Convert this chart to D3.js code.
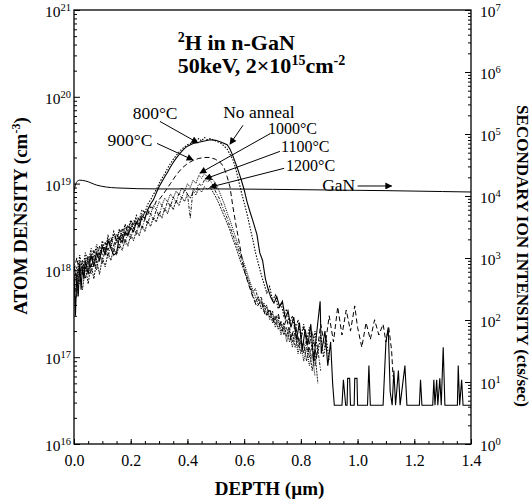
<!DOCTYPE html>
<html lang="en">
<head>
<meta charset="UTF-8">
<title>2H in n-GaN SIMS profile</title>
<script src="https://d3js.org/d3.v7.min.js"></script>
<style>
  body { margin: 0; background: #fff; }
  svg { display: block; font-family: "Liberation Serif", "Times New Roman", serif; }
  .tick line { stroke: #000; }
</style>
</head>
<body>
<div id="chart"></div>
<script>
// depth (um), atom density (cm-3)
const noAnneal = [
  [0.000, 9e17], [0.005, 3e17], [0.010, 9e17], [0.015, 5e17], [0.020, 1.2e18], [0.025, 6e17],
  [0.030, 1.1e18], [0.035, 8e17], [0.040, 1.3e18], [0.050, 9e17], [0.060, 1.5e18], [0.070, 1.1e18],
  [0.080, 1.6e18], [0.090, 1.3e18], [0.100, 1.9e18], [0.110, 1.5e18], [0.120, 2.2e18], [0.130, 1.8e18],
  [0.140, 1.5e18], [0.150, 1.6e18], [0.160, 2.4e18], [0.170, 2.1e18], [0.180, 2.8e18], [0.190, 2.5e18],
  [0.200, 3.1e18], [0.210, 2.8e18], [0.220, 3.6e18], [0.230, 3.2e18], [0.240, 4.2e18], [0.250, 4.0e18],
  [0.260, 5.0e18], [0.270, 5.8e18], [0.280, 6.5e18], [0.290, 7.8e18], [0.300, 9.2e18], [0.310, 1.05e19],
  [0.320, 1.2e19], [0.330, 1.35e19], [0.340, 1.55e19], [0.350, 1.75e19], [0.360, 1.95e19], [0.370, 2.15e19],
  [0.380, 2.35e19], [0.390, 2.55e19], [0.400, 2.7e19], [0.420, 2.9e19], [0.440, 3.0e19], [0.460, 3.1e19],
  [0.480, 3.2e19], [0.500, 3.15e19], [0.520, 3.0e19], [0.540, 2.8e19], [0.550, 2.5e19], [0.560, 2.1e19],
  [0.575, 1.55e19], [0.590, 1.1e19], [0.600, 8.5e18], [0.610, 6.2e18], [0.620, 4.8e18], [0.630, 3.8e18],
  [0.645, 2.6e18], [0.655, 1.6e18], [0.665, 1.3e18], [0.675, 8e17], [0.685, 6e17], [0.695, 4.8e17],
  [0.705, 4.2e17], [0.715, 5e17], [0.725, 3.8e17], [0.735, 4.4e17], [0.745, 2.8e17], [0.755, 3.4e17],
  [0.765, 2.2e17], [0.775, 2.9e17], [0.785, 1.6e17], [0.795, 2.5e17], [0.805, 1.2e17], [0.815, 2.1e17],
  [0.825, 1.4e17], [0.835, 2.4e17], [0.845, 9e16], [0.855, 1.8e17], [0.868, 4.4e17], [0.872, 1.1e17],
  [0.885, 2e17], [0.895, 8e16], [0.905, 1.5e17], [0.912, 5e16], [0.918, 2.8e16], [0.945, 2.8e16],
  [0.950, 5.5e16], [0.958, 2.8e16], [0.963, 2.8e16], [0.965, 5.7e16], [0.972, 5.7e16], [0.975, 2.8e16],
  [0.988, 2.8e16], [0.990, 5.7e16], [0.998, 5.7e16], [1.000, 2.8e16], [1.035, 2.8e16], [1.040, 8e16],
  [1.045, 2.8e16], [1.090, 2.8e16], [1.100, 1.5e17], [1.108, 2.2e17], [1.115, 4e16], [1.122, 2.8e16],
  [1.128, 7e16], [1.134, 2.8e16], [1.144, 7e16], [1.150, 2.8e16], [1.167, 8e16], [1.174, 2.8e16],
  [1.218, 2.8e16], [1.222, 5.5e16], [1.227, 2.8e16], [1.265, 2.8e16], [1.269, 5.5e16], [1.273, 2.8e16],
  [1.279, 5.5e16], [1.283, 2.8e16], [1.290, 5.7e16], [1.295, 2.8e16], [1.302, 1.3e17], [1.308, 2.8e16],
  [1.352, 2.8e16], [1.355, 8e16], [1.360, 2.8e16], [1.367, 5.5e16], [1.372, 2.8e16], [1.400, 2.8e16]
];

const t800 = [
  [0.00, 1.2e18], [0.01, 8e17], [0.02, 1.5e18], [0.03, 1.0e18], [0.04, 1.6e18], [0.05, 1.2e18],
  [0.06, 1.8e18], [0.07, 1.4e18], [0.08, 2.0e18], [0.09, 1.5e18], [0.10, 2.2e18], [0.11, 1.7e18],
  [0.12, 2.5e18], [0.13, 2.0e18], [0.14, 2.8e18], [0.15, 2.2e18], [0.16, 3.0e18], [0.17, 2.5e18],
  [0.18, 3.4e18], [0.19, 2.9e18], [0.20, 3.8e18], [0.21, 3.3e18], [0.22, 4.3e18], [0.23, 3.8e18],
  [0.24, 5.0e18], [0.25, 4.6e18], [0.26, 5.8e18], [0.27, 6.5e18], [0.28, 7.5e18], [0.29, 8.5e18],
  [0.30, 1.0e19], [0.31, 1.15e19], [0.32, 1.3e19], [0.33, 1.5e19], [0.34, 1.7e19], [0.35, 1.9e19],
  [0.36, 2.1e19], [0.37, 2.3e19], [0.38, 2.5e19], [0.40, 2.8e19], [0.42, 3.0e19], [0.44, 3.3e19],
  [0.45, 3.1e19], [0.46, 3.4e19], [0.47, 3.2e19], [0.48, 3.3e19], [0.50, 3.1e19], [0.52, 2.9e19],
  [0.54, 2.5e19], [0.56, 1.9e19], [0.57, 1.5e19], [0.58, 1.1e19], [0.59, 8e18], [0.60, 6e18],
  [0.61, 4.5e18], [0.62, 3.2e18], [0.63, 2.3e18], [0.64, 1.6e18], [0.65, 1.2e18], [0.66, 9e17],
  [0.67, 7e17], [0.68, 5.5e17], [0.69, 6.5e17], [0.70, 4.5e17], [0.71, 5.2e17], [0.72, 3.6e17],
  [0.73, 4.2e17], [0.74, 3e17], [0.75, 3.6e17], [0.76, 2.4e17], [0.77, 3e17], [0.78, 2e17],
  [0.79, 2.7e17], [0.80, 1.7e17], [0.81, 2.4e17], [0.82, 1.5e17], [0.83, 2.2e17], [0.84, 1.2e17],
  [0.85, 2e17], [0.86, 1.1e17], [0.87, 1.8e17], [0.88, 1.0e17], [0.89, 1.6e17], [0.90, 9e16]
];

const t900 = [
  [0.00, 1.0e18], [0.01, 1.4e18], [0.02, 9e17], [0.03, 1.3e18], [0.04, 1.0e18], [0.05, 1.5e18],
  [0.06, 1.1e18], [0.07, 1.7e18], [0.08, 1.3e18], [0.09, 1.9e18], [0.10, 1.5e18], [0.11, 2.1e18],
  [0.12, 1.7e18], [0.13, 2.4e18], [0.14, 1.9e18], [0.15, 2.7e18], [0.16, 2.2e18], [0.17, 3.0e18],
  [0.18, 2.5e18], [0.19, 3.4e18], [0.20, 2.9e18], [0.21, 3.8e18], [0.22, 3.3e18], [0.23, 4.2e18],
  [0.24, 3.8e18], [0.25, 4.8e18], [0.26, 4.4e18], [0.27, 5.4e18], [0.28, 5.2e18], [0.29, 6.3e18],
  [0.30, 6.5e18], [0.32, 8e18], [0.34, 1.0e19], [0.36, 1.25e19], [0.38, 1.5e19], [0.40, 1.7e19],
  [0.42, 1.85e19], [0.44, 1.95e19], [0.46, 2.0e19], [0.48, 2.0e19], [0.50, 1.9e19], [0.52, 1.7e19],
  [0.53, 1.5e19], [0.54, 1.2e19], [0.55, 9.2e18], [0.56, 5.5e18], [0.57, 3.5e18], [0.585, 1.9e18],
  [0.60, 1.0e18], [0.615, 7e17], [0.63, 5e17], [0.645, 3.8e17], [0.66, 4.5e17], [0.675, 3e17],
  [0.69, 3.6e17], [0.705, 2.5e17], [0.72, 3.2e17], [0.735, 2e17], [0.75, 2.8e17], [0.765, 1.6e17],
  [0.78, 2.4e17], [0.795, 1.4e17], [0.81, 2.2e17], [0.825, 1.2e17], [0.84, 2.0e17], [0.855, 1e17],
  [0.87, 2.4e17], [0.885, 1.3e17], [0.90, 3e17], [0.915, 1.5e17], [0.93, 3.8e17], [0.945, 1.8e17],
  [0.96, 3.5e17], [0.975, 2e17], [0.99, 3.9e17], [1.00, 2.2e17], [1.015, 1.3e17], [1.03, 2.5e17],
  [1.045, 1.6e17], [1.06, 2.7e17], [1.075, 1.8e17], [1.09, 2.4e17], [1.10, 1.5e17], [1.11, 2.2e17],
  [1.12, 1.2e17], [1.125, 6e16]
];

const t1000 = [
  [0.00, 1.1e18], [0.01, 7e17], [0.02, 1.3e18], [0.03, 9e17], [0.04, 1.4e18], [0.05, 1.0e18],
  [0.06, 1.6e18], [0.07, 1.2e18], [0.08, 1.8e18], [0.09, 1.4e18], [0.10, 2.0e18], [0.11, 1.6e18],
  [0.12, 2.3e18], [0.13, 1.8e18], [0.14, 2.6e18], [0.15, 2.1e18], [0.16, 2.9e18], [0.17, 2.3e18],
  [0.18, 3.2e18], [0.19, 2.6e18], [0.20, 3.6e18], [0.21, 3.0e18], [0.22, 4.0e18], [0.23, 3.4e18],
  [0.24, 4.5e18], [0.25, 3.9e18], [0.26, 5.0e18], [0.27, 4.4e18], [0.28, 5.6e18], [0.29, 5.0e18],
  [0.30, 6.2e18], [0.31, 5.6e18], [0.32, 6.8e18], [0.33, 6.2e18], [0.34, 7.6e18], [0.35, 6.8e18],
  [0.36, 8.2e18], [0.37, 7.4e18], [0.38, 9e18], [0.39, 8.2e18], [0.40, 1.0e19], [0.41, 9e18],
  [0.42, 1.1e19], [0.43, 1.0e19], [0.44, 1.25e19], [0.45, 1.15e19], [0.46, 1.3e19], [0.47, 1.2e19],
  [0.48, 1.25e19], [0.49, 1.1e19], [0.50, 1.0e19], [0.51, 8.5e18], [0.52, 7e18], [0.53, 5.8e18],
  [0.54, 4.6e18], [0.55, 3.8e18], [0.56, 3.0e18], [0.57, 2.4e18], [0.58, 1.9e18], [0.59, 1.5e18],
  [0.60, 1.2e18], [0.61, 9.5e17], [0.62, 7.5e17], [0.63, 6e17], [0.64, 5e17], [0.65, 4e17],
  [0.66, 4.6e17], [0.67, 3.3e17], [0.68, 3.8e17], [0.69, 2.7e17], [0.70, 3.2e17], [0.71, 2.2e17],
  [0.72, 2.7e17], [0.73, 1.8e17], [0.74, 2.3e17], [0.75, 1.5e17], [0.76, 2e17], [0.77, 1.3e17],
  [0.78, 1.8e17], [0.79, 1.1e17], [0.80, 1.5e17], [0.81, 9e16], [0.82, 1.3e17], [0.83, 8e16],
  [0.84, 1.1e17], [0.85, 6e16]
];

const t1100 = [
  [0.00, 6e17], [0.01, 1.1e18], [0.02, 7e17], [0.03, 1.2e18], [0.04, 8e17], [0.05, 1.3e18],
  [0.06, 9e17], [0.07, 1.4e18], [0.08, 1.0e18], [0.09, 1.6e18], [0.10, 1.2e18], [0.11, 1.8e18],
  [0.12, 1.4e18], [0.13, 2.0e18], [0.14, 1.6e18], [0.15, 2.3e18], [0.16, 1.8e18], [0.17, 2.6e18],
  [0.18, 2.0e18], [0.19, 2.9e18], [0.20, 2.3e18], [0.21, 3.2e18], [0.22, 2.6e18], [0.23, 3.6e18],
  [0.24, 3.0e18], [0.25, 4.0e18], [0.26, 3.4e18], [0.27, 4.5e18], [0.28, 3.8e18], [0.29, 5.0e18],
  [0.30, 4.2e18], [0.31, 5.6e18], [0.32, 4.8e18], [0.33, 6.3e18], [0.34, 5.4e18], [0.35, 7e18],
  [0.36, 6e18], [0.37, 7.8e18], [0.38, 6.8e18], [0.39, 8.5e18], [0.40, 7.6e18], [0.41, 4e18],
  [0.42, 8.8e18], [0.43, 8e18], [0.44, 1.0e19], [0.45, 9.4e18], [0.46, 1.1e19], [0.47, 1.05e19],
  [0.48, 1.1e19], [0.49, 9.5e18], [0.50, 8e18], [0.51, 7e18], [0.52, 5.8e18], [0.53, 4.8e18],
  [0.54, 4e18], [0.55, 3.2e18], [0.56, 2.6e18], [0.57, 2.1e18], [0.58, 1.7e18], [0.59, 1.35e18],
  [0.60, 1.1e18], [0.61, 8.5e17], [0.62, 7e17], [0.63, 5.5e17], [0.64, 6.2e17], [0.65, 4.5e17],
  [0.66, 5e17], [0.67, 3.6e17], [0.68, 4e17], [0.69, 2.9e17], [0.70, 3.4e17], [0.71, 2.4e17],
  [0.72, 2.9e17], [0.73, 2e17], [0.74, 2.5e17], [0.75, 1.7e17], [0.76, 2.2e17], [0.77, 1.5e17],
  [0.78, 2e17], [0.79, 1.3e17], [0.80, 1.8e17], [0.81, 1.1e17], [0.82, 1.6e17], [0.83, 1e17],
  [0.84, 1.4e17], [0.85, 8e16], [0.86, 1.2e17], [0.87, 7e16]
];

const t1200 = [
  [0.00, 8e17], [0.01, 5e17], [0.02, 1.0e18], [0.03, 6e17], [0.04, 1.1e18], [0.05, 7e17],
  [0.06, 1.2e18], [0.07, 8e17], [0.08, 1.3e18], [0.09, 9e17], [0.10, 1.4e18], [0.11, 1.1e18],
  [0.12, 1.6e18], [0.13, 1.3e18], [0.14, 1.8e18], [0.15, 1.5e18], [0.16, 2.0e18], [0.17, 1.7e18],
  [0.18, 2.3e18], [0.19, 1.9e18], [0.20, 2.6e18], [0.21, 2.2e18], [0.22, 2.9e18], [0.23, 2.5e18],
  [0.24, 3.3e18], [0.25, 2.8e18], [0.26, 3.7e18], [0.27, 3.2e18], [0.28, 4.1e18], [0.29, 3.6e18],
  [0.30, 4.6e18], [0.31, 4.0e18], [0.32, 5.2e18], [0.33, 4.5e18], [0.34, 5.8e18], [0.35, 5.0e18],
  [0.36, 6.4e18], [0.37, 5.6e18], [0.38, 7e18], [0.39, 6.2e18], [0.40, 7.6e18], [0.41, 6.8e18],
  [0.42, 8.2e18], [0.43, 7.4e18], [0.44, 8.8e18], [0.45, 8e18], [0.46, 9.2e18], [0.47, 8.6e18],
  [0.48, 9e18], [0.49, 8e18], [0.50, 7e18], [0.51, 6e18], [0.52, 5e18], [0.53, 4.2e18],
  [0.54, 3.5e18], [0.55, 2.9e18], [0.56, 2.3e18], [0.57, 1.9e18], [0.58, 1.5e18], [0.59, 1.2e18],
  [0.60, 1.0e18], [0.61, 8e17], [0.62, 6.5e17], [0.63, 5.2e17], [0.64, 4.3e17], [0.65, 5e17],
  [0.66, 3.6e17], [0.67, 4.2e17], [0.68, 3e17], [0.69, 3.5e17], [0.70, 2.5e17], [0.71, 3e17],
  [0.72, 2.1e17], [0.73, 2.6e17], [0.74, 1.8e17], [0.75, 2.2e17], [0.76, 1.5e17], [0.77, 1.9e17],
  [0.78, 1.3e17], [0.79, 1.7e17], [0.80, 1.1e17], [0.81, 1.5e17], [0.82, 9e16], [0.83, 1.3e17],
  [0.84, 7e16], [0.85, 1.1e17], [0.86, 5e16]
];

// GaN matrix signal, secondary ion intensity (cts/sec)
const ganSignal = [
  [0.000, 1.2e4], [0.010, 1.7e4], [0.020, 1.8e4], [0.040, 1.75e4], [0.080, 1.5e4], [0.150, 1.35e4],
  [0.300, 1.3e4], [0.500, 1.3e4], [0.700, 1.28e4], [0.900, 1.25e4], [1.100, 1.22e4], [1.300, 1.18e4],
  [1.400, 1.16e4]
];

const xTicks = [0, 0.2, 0.4, 0.6, 0.8, 1.0, 1.2, 1.4];
const leftExps = [16, 17, 18, 19, 20, 21];
const rightExps = [0, 1, 2, 3, 4, 5, 6, 7];

// label text, label anchor [depth, density], arrow from, arrow to
const notes = [
  { text: "800°C", at: [0.286, 6.5e19], anchor: "middle", size: 17.5, from: [0.303, 5.2e19], to: [0.437, 2.95e19] },
  { text: "No anneal", at: [0.652, 6.7e19], anchor: "middle", size: 17.5, from: [0.596, 4.7e19], to: [0.550, 2.85e19] },
  { text: "900°C", at: [0.197, 3.2e19], anchor: "middle", size: 17.5, from: [0.293, 2.9e19], to: [0.420, 1.87e19] },
  { text: "1000°C", at: [0.684, 4.3e19], anchor: "start", size: 16, from: [0.691, 3.75e19], to: [0.444, 1.32e19] },
  { text: "1100°C", at: [0.730, 2.64e19], anchor: "start", size: 16, from: [0.726, 2.35e19], to: [0.462, 1.13e19] },
  { text: "1200°C", at: [0.748, 1.6e19], anchor: "start", size: 16, from: [0.741, 1.5e19], to: [0.480, 9.1e18] }
];

const W = 531, H = 499;
const margin = { top: 10, right: 60, bottom: 55, left: 74 };
const serif = '"Liberation Serif", "Times New Roman", serif';

const svg = d3.select('#chart').append('svg')
  .attr('width', W).attr('height', H)
  .attr('font-family', serif);

const x = d3.scaleLinear().domain([0, 1.4]).range([margin.left, W - margin.right]);
const yL = d3.scaleLog().domain([1e16, 1e21]).range([H - margin.bottom, margin.top]);
const yR = d3.scaleLog().domain([1, 1e7]).range([H - margin.bottom, margin.top]);

svg.append('clipPath').attr('id', 'plot')
  .append('rect')
  .attr('x', margin.left).attr('y', margin.top)
  .attr('width', W - margin.left - margin.right)
  .attr('height', H - margin.top - margin.bottom);

// minor ticks
function minorsFor(lo, hi) {
  const out = [];
  for (let e = lo; e < hi; e++) {
    for (let m = 2; m <= 9; m++) out.push(m * Math.pow(10, e));
  }
  return out;
}

const bottomY = H - margin.bottom;
svg.append('g').attr('transform', `translate(0,${bottomY})`)
  .call(d3.axisBottom(x).tickValues(d3.range(0, 29).map(i => i * 0.05)).tickSize(-3).tickFormat(''))
  .call(g => g.select('.domain').remove());
svg.append('g').attr('transform', `translate(0,${bottomY})`)
  .call(d3.axisBottom(x).tickValues(xTicks).tickSize(-5).tickPadding(11).tickFormat(d3.format('.1f')))
  .call(g => g.select('.domain').remove())
  .call(g => g.selectAll('text').attr('font-size', 16).attr('fill', '#000')
    .attr('font-family', serif));

svg.append('g').attr('transform', `translate(${margin.left},0)`)
  .call(d3.axisLeft(yL).tickValues(minorsFor(16, 21)).tickSize(-3).tickFormat(''))
  .call(g => g.select('.domain').remove());
svg.append('g').attr('transform', `translate(${margin.left},0)`)
  .call(d3.axisLeft(yL).tickValues(leftExps.map(e => Math.pow(10, e))).tickSize(-6).tickFormat(''))
  .call(g => g.select('.domain').remove());

const rightX = W - margin.right;
svg.append('g').attr('transform', `translate(${rightX},0)`)
  .call(d3.axisRight(yR).tickValues(minorsFor(0, 7)).tickSize(-3).tickFormat(''))
  .call(g => g.select('.domain').remove());
svg.append('g').attr('transform', `translate(${rightX},0)`)
  .call(d3.axisRight(yR).tickValues(rightExps.map(e => Math.pow(10, e))).tickSize(-6).tickFormat(''))
  .call(g => g.select('.domain').remove());

// power-of-ten labels
function powLabel(sel, xPos, yPos, exp, anchor) {
  const t = sel.append('text')
    .attr('x', xPos).attr('y', yPos + 7)
    .attr('text-anchor', anchor)
    .attr('font-size', 15.5);
  t.append('tspan').text('10');
  t.append('tspan').attr('dy', -6).attr('font-size', 10.5).text(exp);
}
leftExps.forEach(e => powLabel(svg, margin.left - 3, yL(Math.pow(10, e)), e, 'end'));
rightExps.forEach(e => powLabel(svg, rightX + 9, yR(Math.pow(10, e)), e, 'start'));

// frame
svg.append('rect')
  .attr('x', margin.left).attr('y', margin.top)
  .attr('width', W - margin.left - margin.right)
  .attr('height', H - margin.top - margin.bottom)
  .attr('fill', 'none').attr('stroke', '#000').attr('stroke-width', 1.3);

// curves
const lineL = d3.line().x(d => x(d[0])).y(d => yL(d[1]));
const lineR = d3.line().x(d => x(d[0])).y(d => yR(d[1])).curve(d3.curveMonotoneX);
const plot = svg.append('g').attr('clip-path', 'url(#plot)');

const series = [
  { data: t1200, dash: '2,1', w: 0.9 },
  { data: t1100, dash: '3,1.5,1,1.5', w: 0.9 },
  { data: t1000, dash: '1,1', w: 1 },
  { data: t900, dash: '5,3', w: 1 },
  { data: t800, dash: '1.5,1.5', w: 1.1 },
  { data: noAnneal, dash: null, w: 1.1 }
];
series.forEach(s => {
  plot.append('path').datum(s.data)
    .attr('d', lineL)
    .attr('fill', 'none').attr('stroke', '#000')
    .attr('stroke-width', s.w)
    .attr('stroke-dasharray', s.dash);
});
plot.append('path').datum(ganSignal)
  .attr('d', lineR)
  .attr('fill', 'none').attr('stroke', '#000').attr('stroke-width', 1);

// arrows
svg.append('defs').append('marker')
  .attr('id', 'head').attr('viewBox', '0 0 10 10')
  .attr('refX', 9).attr('refY', 5)
  .attr('markerWidth', 8).attr('markerHeight', 7)
  .attr('markerUnits', 'userSpaceOnUse')
  .attr('orient', 'auto')
  .append('path').attr('d', 'M0,0L10,5L0,10z').attr('fill', '#000');

notes.forEach(n => {
  svg.append('line')
    .attr('x1', x(n.from[0])).attr('y1', yL(n.from[1]))
    .attr('x2', x(n.to[0])).attr('y2', yL(n.to[1]))
    .attr('stroke', '#000').attr('stroke-width', 1)
    .attr('marker-end', 'url(#head)');
  svg.append('text')
    .attr('x', x(n.at[0])).attr('y', yL(n.at[1]) + n.size * 0.34)
    .attr('text-anchor', n.anchor)
    .attr('font-size', n.size)
    .text(n.text);
});

// GaN label on the right-axis scale
svg.append('text')
  .attr('x', x(0.875)).attr('y', yR(1.45e4) + 5)
  .attr('font-size', 17.5).text('GaN');
svg.append('line')
  .attr('x1', x(1.0)).attr('y1', yR(1.45e4))
  .attr('x2', x(1.12)).attr('y2', yR(1.45e4))
  .attr('stroke', '#000').attr('stroke-width', 1)
  .attr('marker-end', 'url(#head)');

// title
const title = svg.append('g').attr('font-weight', 'bold').attr('font-size', 22);
const t1 = title.append('text').attr('x', x(0.366)).attr('y', yL(4.2e20) + 7);
t1.append('tspan').attr('font-size', 14).attr('dy', -8).text('2');
t1.append('tspan').attr('dy', 8).text('H in n-GaN');
const t2 = title.append('text').attr('x', x(0.366)).attr('y', yL(2.26e20) + 7);
t2.append('tspan').text('50keV, 2×10');
t2.append('tspan').attr('font-size', 14).attr('dy', -8).text('15');
t2.append('tspan').attr('dy', 8).text('cm');
t2.append('tspan').attr('font-size', 14).attr('dy', -8).text('-2');

// axis titles
svg.append('text')
  .attr('x', (margin.left + W - margin.right) / 2 - 3).attr('y', 495)
  .attr('text-anchor', 'middle')
  .attr('font-weight', 'bold').attr('font-size', 19)
  .text('DEPTH (µm)');

const yt = svg.append('text')
  .attr('transform', 'translate(27,216) rotate(-90)')
  .attr('text-anchor', 'middle')
  .attr('font-weight', 'bold').attr('font-size', 19);
yt.append('tspan').text('ATOM DENSITY (cm');
yt.append('tspan').attr('font-size', 12).attr('dy', -7).text('-3');
yt.append('tspan').attr('dy', 7).text(')');

svg.append('text')
  .attr('transform', 'translate(517,256) rotate(90)')
  .attr('text-anchor', 'middle')
  .attr('font-weight', 'bold').attr('font-size', 17)
  .text('SECONDARY ION INTENSITY (cts/sec)');
</script>
</body>
</html>
